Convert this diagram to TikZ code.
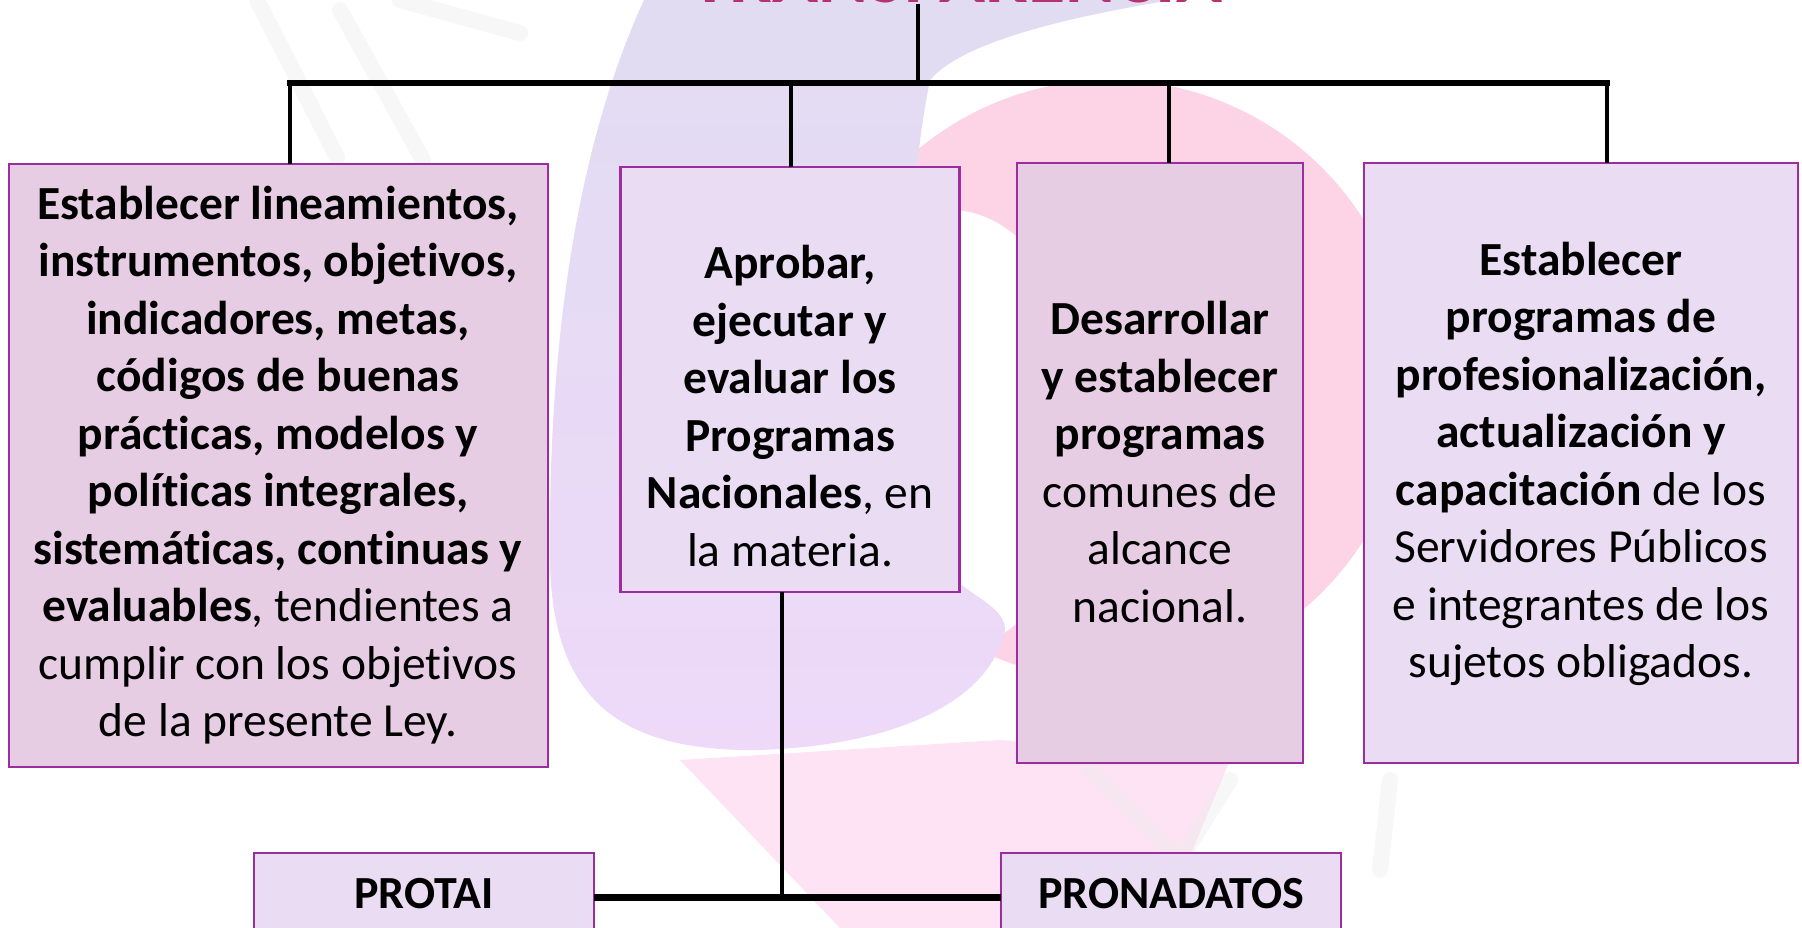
\documentclass[tikz,border=0pt]{standalone}
\usepackage{fontspec}
\setmainfont{Carlito}[Ligatures=NoCommon]
\definecolor{boxA}{HTML}{E6CDE4}
\definecolor{boxB}{HTML}{EADDF3}
\definecolor{edgec}{HTML}{9B2D9F}
\definecolor{titlec}{HTML}{B3336F}
\definecolor{pinkbg}{HTML}{FDD3E6}
\definecolor{pinklow}{HTML}{FDE3F3}
\definecolor{lavtop}{HTML}{E1DCF2}
\definecolor{lilac}{HTML}{EED9F9}
\definecolor{ghost}{HTML}{ECECEC}
\tikzset{
  box/.style={draw=edgec, line width=2.5pt, inner sep=0pt, outer sep=0pt},
  boxa/.style={box, fill=boxA},
  boxb/.style={box, fill=boxB},
  txt/.style={align=center, font=\fontsize{47.5}{57.5}\selectfont, text=black, inner sep=0pt},
  link/.style={line width=4.5pt, black},
  busline/.style={line width=6pt, black, line cap=rect},
  ghoststroke/.style={ghost, line width=16pt, line cap=round, opacity=0.4},
}
\begin{document}
\begin{tikzpicture}[x=1pt,y=-1pt]
\useasboundingbox (0,0) rectangle (1802,928);
\clip (0,0) rectangle (1802,928);
\fill[white] (0,0) rectangle (1802,928);

% ---- faint background watermark ----
\fill[pinkbg] (1110,380) circle (300);
\fill[white] (950,430) ellipse (140 and 220);
\fill[pinklow] (680,760) -- (1000,740) -- (1230,760) -- (1160,928) -- (840,928) -- cycle;
\shade[top color=lavtop, bottom color=lilac]
  (644,0) -- (1172,0) .. controls (1050,20) and (960,45) .. (930,80)
  .. controls (895,250) and (915,480) .. (955,580)
  .. controls (980,600) and (1005,610) .. (1005,630)
  .. controls (990,700) and (900,745) .. (760,750)
  .. controls (620,752) and (552,700) .. (550,560)
  .. controls (548,350) and (575,150) .. (644,0) -- cycle;
\draw[ghoststroke] (257,0) -- (337,157);
\draw[ghoststroke] (340,10) -- (423,160);
\draw[ghoststroke] (400,0) -- (520,33);
\draw[ghoststroke] (1090,770) -- (1180,860) -- (1230,780);
\draw[ghoststroke] (1390,780) -- (1380,870);

% ---- title (cut off at the top, as in the reference) ----
\node[anchor=base, font=\fontsize{76}{80}\selectfont\bfseries, text=titlec, inner sep=0pt] (title) at (957,3) {TRANSPARENCIA};

% ---- boxes ----
\node[boxa, minimum width=539, minimum height=603] (b1) at (278.5,465.5) {};
\node[boxb, minimum width=339, minimum height=425] (b2) at (790,379.5) {};
\node[boxa, minimum width=286, minimum height=600] (b3) at (1160,463) {};
\node[boxb, minimum width=434, minimum height=600] (b4) at (1581,463) {};
\node[boxb, minimum width=340, minimum height=90] (p1) at (424,898) {};
\node[boxb, minimum width=340, minimum height=90] (p2) at (1171,898) {};

% ---- connectors ----
\coordinate (hub) at (918,83);
\coordinate (d1) at (290,83);
\coordinate (d2) at (791,83);
\coordinate (d3) at (1169,83);
\coordinate (d4) at (1607,83);
\coordinate (j) at (782,897);
\draw[link] (hub |- title.south) -- (hub);
\draw[busline] (d1) -- (d4);
\draw[link] (d1) -- (d1 |- b1.north);
\draw[link] (d2) -- (d2 |- b2.north);
\draw[link] (d3) -- (d3 |- b3.north);
\draw[link] (d4) -- (d4 |- b4.north);
\draw[link] (j |- b2.south) -- (j);
\draw[line width=7pt, black] (p1.east |- j) -- (p2.west |- j);

% ---- texts ----
\node[txt] (t1) at (278,465) {\textbf{Establecer lineamientos,}\\
\textbf{instrumentos, objetivos,}\\
\textbf{indicadores, metas,}\\
\textbf{códigos de buenas}\\
\textbf{prácticas, modelos y}\\
\textbf{políticas integrales,}\\
\textbf{sistemáticas, continuas y}\\
\textbf{evaluables}, tendientes a\\
cumplir con los objetivos\\
de la presente Ley.};
\node[txt] (t2) at (790,406) {\textbf{Aprobar,}\\
\textbf{ejecutar y}\\
\textbf{evaluar los}\\
\textbf{Programas}\\
\textbf{Nacionales}, en\\
la materia.};
\node[txt] (t3) at (1160,462) {\textbf{Desarrollar}\\
\textbf{y establecer}\\
\textbf{programas}\\
comunes de\\
alcance\\
nacional.};
\node[txt] (t4) at (1581,464) {\textbf{Establecer}\\
\textbf{programas de}\\
\textbf{profesionalización,}\\
\textbf{actualización y}\\
\textbf{capacitación} de los\\
Servidores Públicos\\
e integrantes de los\\
sujetos obligados.};
\node[txt, font=\fontsize{46}{55}\selectfont\bfseries] (tp1) at (424,894) {PROTAI};
\node[txt, font=\fontsize{46}{55}\selectfont\bfseries] (tp2) at (1171,894) {PRONADATOS};
\end{tikzpicture}
\end{document}
